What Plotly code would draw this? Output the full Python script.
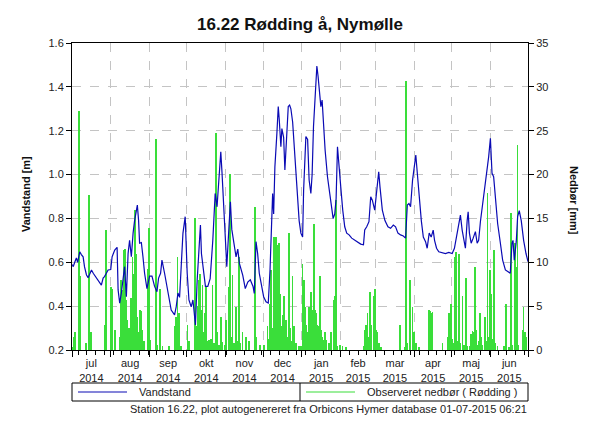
import pandas as pd
import plotly.graph_objects as go

# ---------------- data ----------------
start_date = "2014-07-01"
end_date = "2015-07-01"

# water level: days since 1 Jul 2014, level in m
level_day = [0.3, 1.0, 2.2, 3.5, 4.5, 5.5, 6.2, 7.5, 8.9, 10.0, 11.6, 12.9, 14.2, 15.6, 17.0, 18.2, 20.9, 22.5,
             23.5, 24.9, 26.0, 27.5, 28.9, 31.0, 32.1, 34.2, 36.1, 36.9, 38.2, 39.5, 40.9, 42.1, 43.5, 44.9,
             46.1, 47.5, 48.9, 50.1, 52.3, 53.3, 54.1, 55.5, 56.8, 58.1, 60.0, 62.1, 64.0, 66.1, 68.0, 69.3,
             70.9, 72.0, 74.1, 76.8, 79.4, 82.1, 83.4, 84.8, 86.1, 87.4, 88.8, 90.6, 92.2, 93.6, 95.4, 96.8,
             98.0, 98.8, 100.2, 101.2, 102.8, 103.6, 105.5, 106.8, 108.7, 110.6, 112.7, 114.6, 116.1, 117.2,
             118.3, 119.1, 120.1, 122.0, 123.9, 125.5, 126.8, 127.9, 129.5, 131.3, 132.7, 134.0, 136.7, 138.7,
             140.7, 142.7, 144.9, 145.9, 147.3, 148.6, 149.9, 151.8, 153.4, 155.3, 157.1, 158.5, 159.8, 160.6,
             161.4, 162.4, 164.0, 165.1, 165.9, 167.2, 168.0, 169.4, 170.4, 171.8, 173.1, 174.2, 175.2, 176.6,
             178.4, 180.0, 181.8, 183.2, 184.6, 185.4, 186.4, 187.2, 188.6, 189.8, 191.2, 192.2, 193.3, 194.6,
             196.0, 197.0, 198.1, 199.2, 200.2, 201.3, 202.6, 204.5, 206.4, 207.7, 209.0, 210.3, 211.4, 212.5,
             213.5, 215.1, 216.7, 218.3, 219.9, 221.8, 223.9, 226.3, 228.5, 231.1, 233.3, 234.3, 235.9, 237.7,
             239.1, 240.4, 242.3, 243.9, 245.5, 246.5, 248.4, 250.5, 252.9, 255.0, 257.2, 259.0, 260.9, 263.0,
             265.2, 267.0, 268.4, 269.7, 271.0, 272.6, 274.2, 275.2, 276.4, 277.6, 279.6, 281.2, 283.0, 284.3,
             285.9, 287.5, 289.1, 290.2, 291.8, 293.6, 296.3, 298.9, 301.6, 304.3, 306.1, 308.3, 310.1, 310.9,
             312.3, 313.6, 314.9, 316.3, 317.1, 318.1, 319.5, 321.1, 322.9, 324.3, 325.5, 326.9, 328.7, 330.3,
             332.2, 333.5, 334.9, 336.2, 337.5, 338.9, 340.7, 342.9, 344.7, 346.9, 348.7, 350.8, 352.2, 353.0,
             354.0, 355.6, 356.7, 358.0, 359.6, 361.5, 363.4, 365.0]
level_m = [0.59, 0.58, 0.60, 0.62, 0.60, 0.63, 0.648, 0.635, 0.625, 0.58, 0.542, 0.53, 0.55, 0.565, 0.55, 0.54,
           0.519, 0.505, 0.496, 0.528, 0.535, 0.55, 0.565, 0.567, 0.625, 0.656, 0.668, 0.474, 0.414, 0.46, 0.52,
           0.58, 0.443, 0.64, 0.70, 0.625, 0.733, 0.79, 0.861, 0.79, 0.687, 0.69, 0.625, 0.55, 0.48, 0.537, 0.537,
           0.49, 0.466, 0.528, 0.55, 0.61, 0.55, 0.458, 0.382, 0.36, 0.397, 0.46, 0.44, 0.58, 0.732, 0.808, 0.55,
           0.428, 0.397, 0.428, 0.352, 0.314, 0.519, 0.64, 0.77, 0.64, 0.565, 0.49, 0.49, 0.525, 0.70, 0.914,
           0.853, 0.96, 1.051, 1.104, 1.006, 0.808, 0.58, 0.747, 0.876, 0.75, 0.70, 0.625, 0.66, 0.595, 0.54,
           0.48, 0.51, 0.52, 0.49, 0.458, 0.694, 0.64, 0.55, 0.48, 0.443, 0.42, 0.414, 0.565, 0.808, 0.914, 0.82,
           1.036, 1.188, 1.31, 1.25, 1.127, 1.21, 1.17, 1.021, 1.21, 1.31, 1.317, 1.30, 1.24, 1.098, 0.96, 0.79,
           0.733, 0.715, 0.93, 1.036, 1.173, 1.16, 0.975, 0.914, 1.0, 1.218, 1.386, 1.495, 1.446, 1.37, 1.31,
           1.34, 1.218, 1.112, 0.99, 0.899, 0.838, 0.80, 0.82, 0.89, 1.127, 1.07, 0.945, 0.838, 0.762, 0.733,
           0.725, 0.71, 0.70, 0.694, 0.683, 0.68, 0.747, 0.762, 0.785, 0.899, 0.883, 0.838, 0.93, 1.013, 0.945,
           0.838, 0.79, 0.762, 0.755, 0.77, 0.762, 0.733, 0.725, 0.72, 0.71, 0.861, 0.868, 0.853, 0.975, 1.036,
           1.089, 1.006, 0.914, 0.79, 0.715, 0.694, 0.664, 0.733, 0.715, 0.747, 0.70, 0.664, 0.648, 0.645, 0.64,
           0.645, 0.64, 0.664, 0.733, 0.79, 0.815, 0.747, 0.70, 0.664, 0.79, 0.83, 0.733, 0.687, 0.71, 0.74,
           0.687, 0.70, 0.785, 0.869, 0.93, 1.006, 1.081, 1.165, 1.006, 0.99, 0.883, 0.777, 0.687, 0.61, 0.565,
           0.557, 0.55, 0.687, 0.70, 0.61, 0.694, 0.808, 0.836, 0.79, 0.70, 0.64, 0.603]

# daily precipitation: day index since 1 Jul 2014, mm
rain_day = [0, 1, 2, 5, 6, 11, 13, 15, 26, 27, 31, 32, 34, 38, 39, 40, 41, 42, 43, 44, 45, 46, 47, 48, 49, 50,
            51, 52, 53, 54, 55, 56, 57, 60, 61, 62, 67, 68, 70, 72, 77, 82, 83, 84, 85, 87, 92, 93, 98, 99, 100,
            101, 102, 103, 104, 105, 106, 107, 108, 109, 110, 111, 112, 113, 115, 116, 117, 119, 120, 122, 123,
            125, 126, 127, 128, 129, 131, 132, 133, 134, 136, 139, 141, 146, 147, 150, 153, 156, 157, 158, 159,
            160, 161, 162, 163, 164, 165, 166, 167, 168, 169, 170, 171, 172, 173, 174, 175, 176, 177, 178, 179,
            181, 183, 184, 185, 186, 187, 188, 189, 190, 191, 192, 193, 194, 195, 196, 197, 198, 199, 200, 201,
            202, 203, 205, 207, 209, 210, 211, 212, 214, 216, 219, 233, 234, 235, 236, 237, 238, 239, 241, 242,
            243, 244, 245, 247, 262, 266, 267, 268, 270, 272, 273, 275, 277, 285, 286, 287, 288, 296, 300, 301,
            302, 303, 304, 305, 306, 307, 308, 309, 310, 312, 313, 315, 316, 318, 319, 320, 321, 322, 323, 324,
            325, 326, 327, 328, 330, 331, 332, 333, 334, 335, 336, 337, 338, 340, 345, 347, 349, 351, 352, 354,
            355, 356, 357, 360, 361, 362, 363]
rain_mm = [0.3, 1.5, 2.1, 27.3, 8.4, 0.8, 17.7, 2.0, 2.9, 13.7, 7.2, 6.9, 2.3, 1.5, 8.0, 6.8, 11.4, 11.5, 5.7,
           3.4, 2.5, 1.5, 5.9, 10.6, 8.7, 16.0, 11.0, 3.8, 2.0, 4.6, 4.4, 2.3, 1.0, 9.2, 13.9, 1.1, 24.0, 0.6,
           7.0, 0.5, 0.4, 2.7, 3.8, 10.6, 4.2, 0.5, 2.9, 1.0, 15.0, 2.7, 5.0, 8.0, 8.7, 4.6, 7.4, 2.0, 4.2, 7.2,
           1.0, 1.1, 0.8, 1.3, 7.4, 0.8, 24.7, 2.0, 0.6, 3.8, 0.9, 0.6, 3.4, 7.2, 20.1, 1.5, 8.6, 0.8, 4.9, 1.0,
           10.6, 0.8, 2.1, 1.5, 1.0, 16.3, 1.5, 0.6, 0.6, 2.7, 1.2, 5.3, 9.1, 2.5, 12.9, 8.0, 12.9, 12.0, 12.2,
           6.4, 2.7, 4.0, 6.1, 2.0, 3.4, 1.5, 13.3, 2.5, 1.0, 8.4, 2.7, 0.6, 0.8, 0.4, 0.5, 9.8, 8.0, 4.9, 2.9,
           2.0, 4.9, 3.0, 6.6, 4.6, 14.4, 4.6, 4.2, 2.9, 2.7, 8.4, 2.3, 1.5, 1.1, 2.0, 1.1, 0.8, 2.1, 5.7, 6.1,
           17.1, 0.4, 0.6, 0.4, 0.3, 0.4, 2.3, 2.9, 4.2, 1.5, 6.6, 2.9, 6.2, 7.0, 2.3, 2.0, 0.8, 0.3, 2.9, 0.3,
           30.7, 0.8, 8.0, 4.9, 2.0, 0.8, 0.3, 4.6, 4.4, 4.2, 4.3, 0.8, 1.5, 4.2, 2.5, 5.3, 1.2, 0.8, 10.6, 11.2,
           1.0, 11.0, 0.8, 6.2, 0.6, 8.2, 0.4, 0.5, 1.8, 2.2, 2.0, 9.5, 2.3, 0.6, 1.0, 4.2, 1.5, 0.6, 3.8, 1.0,
           17.9, 1.5, 9.1, 6.4, 1.2, 11.4, 0.8, 0.5, 0.4, 5.3, 0.3, 15.6, 0.6, 12.2, 9.5, 23.4, 0.6, 2.3, 4.9,
           2.0, 1.5]

month_names = ["jul", "aug", "sep", "okt", "nov", "dec", "jan", "feb", "mar", "apr", "maj", "jun"]
month_years = ["2014"] * 6 + ["2015"] * 6

title_text = "16.22 Rødding å, Nymølle"
left_title = "Vandstand [m]"
right_title = "Nedbør [mm]"
legend_level = "Vandstand"
legend_rain = "Observeret nedbør ( Rødding )"
footer_text = "Station 16.22, plot autogenereret fra Orbicons Hymer database 01-07-2015 06:21"

# ---------------- build ----------------
base = pd.Timestamp(start_date)
lev_x = base + pd.to_timedelta(level_day, unit="D")
rain_x = base + pd.to_timedelta(rain_day, unit="D") + pd.Timedelta(hours=12)

month_starts = pd.date_range(start_date, end_date, freq="MS")
month_mids = [month_starts[i] + (month_starts[i + 1] - month_starts[i]) / 2 for i in range(12)]
month_text = [f"{m}<br>{y}" for m, y in zip(month_names, month_years)]
week_ticks = pd.date_range("2014-07-06", end_date, freq="7D")

W, H = 600, 425
ML, MR, MT, MB = 72, 72, 43, 75
PW, PH = W - ML - MR, H - MT - MB


def px(xp):
    return (xp - ML) / PW


def py(yp):
    return (H - MB - yp) / PH


FONT = "Liberation Sans"
TXT = "#222222"
RAIN_C = "#3ade3a"
LEVEL_C = "#0a0ab4"

fig = go.Figure()
fig.add_trace(go.Bar(
    x=rain_x, y=rain_mm, xaxis="x", yaxis="y",
    width=0.6 * 86400000, marker=dict(color=RAIN_C, line=dict(width=0)),
    showlegend=False, name=legend_rain,
))
fig.add_trace(go.Scatter(
    x=lev_x, y=level_m, xaxis="x2", yaxis="y2", mode="lines",
    line=dict(color=LEVEL_C, width=1.2), showlegend=False, name=legend_level,
))

xr = [start_date, end_date]
fig.update_layout(
    width=W, height=H, margin=dict(l=ML, r=MR, t=MT, b=MB),
    paper_bgcolor="white", plot_bgcolor="white",
    font=dict(family=FONT, size=11, color=TXT),
    bargap=0,
    title=dict(text=f"<b>{title_text}</b>", x=0.5, xanchor="center", y=1 - 24 / H, yanchor="middle",
               font=dict(family=FONT, size=17, color="#111111")),
    xaxis=dict(range=xr, type="date", tickmode="array", tickvals=month_mids, ticktext=month_text,
               ticks="outside", ticklen=3, tickcolor="rgba(0,0,0,0)", showgrid=False,
               showline=True, linecolor="black", linewidth=1, mirror=True,
               tickfont=dict(family=FONT, size=11, color=TXT),
               minor=dict(tickmode="array", tickvals=list(month_starts), ticks="outside", ticklen=6,
                          tickcolor="black", showgrid=True, gridcolor="#c4c4c4", griddash="dash",
                          gridwidth=1),
               zeroline=False, fixedrange=True),
    yaxis=dict(range=[0, 35], side="right", tickmode="array", tickvals=list(range(0, 36, 5)),
               ticks="outside", ticklen=5, tickcolor="black", showline=True, linecolor="black",
               linewidth=1, showgrid=True, gridcolor="#c4c4c4", griddash="dash", zeroline=False,
               tickfont=dict(family=FONT, size=11, color=TXT)),
    xaxis2=dict(range=xr, type="date", overlaying="x", anchor="y2", side="bottom", tickmode="array",
                tickvals=list(week_ticks), ticks="outside", ticklen=4, tickcolor="black",
                showticklabels=False, showgrid=False, showline=False, zeroline=False),
    yaxis2=dict(range=[0.2, 1.6], overlaying="y", anchor="x2", side="left", tickmode="array",
                tickvals=[0.2, 0.4, 0.6, 0.8, 1.0, 1.2, 1.4, 1.6], tickformat=".1f",
                ticks="outside", ticklen=5, tickcolor="black", showline=True, linecolor="black",
                linewidth=1, showgrid=False, zeroline=False,
                tickfont=dict(family=FONT, size=11, color=TXT)),
)

# axis titles
fig.add_annotation(text=f"<b>{left_title}</b>", xref="paper", yref="paper", x=px(18), y=py(194),
                   textangle=-90, showarrow=False, font=dict(family=FONT, size=11, color="#111111"))
fig.add_annotation(text=f"<b>{right_title}</b>", xref="paper", yref="paper", x=px(582), y=py(200),
                   textangle=90, showarrow=False, font=dict(family=FONT, size=11, color="#111111"))

# legend box
shapes = [
    dict(type="rect", xref="paper", yref="paper", x0=px(72), x1=px(528), y0=py(401), y1=py(383),
         line=dict(color="black", width=1), fillcolor="rgba(0,0,0,0)"),
    dict(type="line", xref="paper", yref="paper", x0=px(300), x1=px(300), y0=py(401), y1=py(383),
         line=dict(color="black", width=1)),
    dict(type="line", xref="paper", yref="paper", x0=px(78), x1=px(127), y0=py(392), y1=py(392),
         line=dict(color=LEVEL_C, width=1.2)),
    dict(type="line", xref="paper", yref="paper", x0=px(306), x1=px(355), y0=py(392), y1=py(392),
         line=dict(color=RAIN_C, width=1.2)),
]
fig.update_layout(shapes=shapes)
fig.add_annotation(text=legend_level, xref="paper", yref="paper", x=px(137), y=py(392), xanchor="left",
                   yanchor="middle", showarrow=False, font=dict(family=FONT, size=11, color=TXT))
fig.add_annotation(text=legend_rain, xref="paper", yref="paper", x=px(365), y=py(392), xanchor="left",
                   yanchor="middle", showarrow=False, font=dict(family=FONT, size=11, color=TXT))
fig.add_annotation(text=footer_text, xref="paper", yref="paper", x=px(529), y=py(409), xanchor="right",
                   yanchor="middle", showarrow=False, font=dict(family=FONT, size=11, color=TXT))

fig.write_html("out.html")
